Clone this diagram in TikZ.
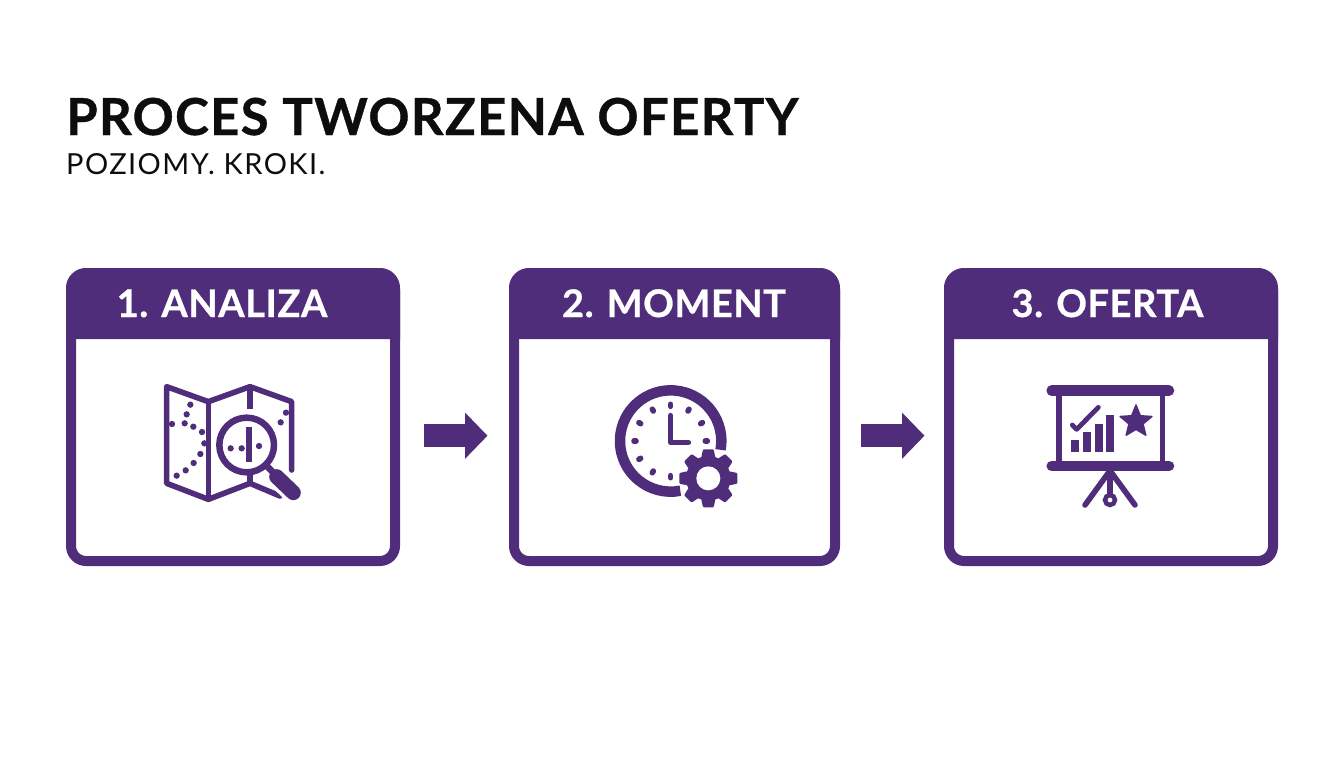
\documentclass[tikz,border=0pt]{standalone}
\usepackage{fontspec}
\setmainfont{Lato}
\newfontfamily\titlef[BoldFeatures={LetterSpace=2.5,FakeBold=0.7}]{Lato}
\newfontfamily\subf[LetterSpace=5]{Lato}
\newfontfamily\hdrf[BoldFeatures={LetterSpace=1.5,FakeBold=0.7}]{Lato}
\usetikzlibrary{arrows.meta}
\definecolor{pur}{HTML}{4F2D7A}
\definecolor{ink}{HTML}{0D0D0D}
\tikzset{
  card/.style={draw=pur,line width=10pt,rounded corners=15pt,fill=white,inner sep=0pt,minimum height=288pt},
  hdrtext/.style={text=white,font=\hdrf\fontsize{38}{40}\selectfont\bfseries,anchor=base,inner sep=0pt},
  flow/.style={draw=pur,line width=23pt,-{Triangle[length=22.5pt,width=45pt]}},
  ico/.style={draw=pur,line width=5.6pt,line cap=round,line join=round},
}
\begin{document}
\begin{tikzpicture}[x=1pt,y=-1pt]
\useasboundingbox[fill=white] (0,0) rectangle (1344,768);
\node[anchor=base west,inner sep=0pt,text=ink,font=\titlef\fontsize{51}{54}\selectfont\bfseries] (title) at (66,135) {PROCES TWORZENA OFERTY};
\node[anchor=base west,inner sep=0pt,text=ink,font=\subf\fontsize{29}{32}\selectfont] (sub) at (66,174) {POZIOMY. KROKI.};

% cards
\node[card,minimum width=324pt] (card1) at (233,417) {};
\node[card,minimum width=321pt] (card2) at (674.5,417) {};
\node[card,minimum width=324pt] (card3) at (1111,417) {};
\foreach \l/\r in {66/400,509/840,944/1278}{
  \fill[pur] (\l,339) -- (\l,290) arc[start angle=180,end angle=270,radius=22] -- (\r-22,268) arc[start angle=270,end angle=360,radius=22] -- (\r,339) -- cycle;
}
\node[hdrtext] (h1) at (222,317) {1. ANALIZA};
\node[hdrtext] (h2) at (674,317) {2. MOMENT};
\node[hdrtext] (h3) at (1107.5,317) {3. OFERTA};

% connectors
\coordinate (a1) at (424,435.7);
\coordinate (b1) at (487.5,435.7);
\coordinate (a2) at (861,435.7);
\coordinate (b2) at (924.5,435.7);
\draw[flow] (a1) -- (b1);
\draw[flow] (a2) -- (b2);

% map icon
\begin{scope}[shift={(150,370)},scale=1/3]
  \draw[ico] (425,300) -- (425,95) -- (300,50) -- (175,95) -- (50,50) -- (50,340) -- (175,388) -- (300,340) -- (390,378);
  \draw[ico] (175,95) -- (175,388);
  \draw[ico,line cap=butt] (300,50) -- (300,118);
  \draw[ico,line cap=butt] (300,315) -- (300,340);
  \foreach \p in {(121,104),(110,133),(104,160),(130,170),(156,186),(163,220),(151,252),(131,279),(107,301),(80,317),(66,162),(408,128),(392,157)}
    \fill[pur] \p circle[radius=9.5];
  \draw[white,line width=20pt,line cap=round] (385,328) -- (430,372);
  \draw[ico,fill=white,line width=6.5pt] (290,225) circle[radius=82];
  \foreach \p in {(242,235),(275,235),(327,228)}
    \fill[pur] \p circle[radius=9.5];
  \draw[pur,line width=6pt] (298,170) -- (298,275);
  \draw[pur,line width=6.5pt] (350,288) -- (385,323);
  \draw[pur,line width=15pt,line cap=round] (380,320) -- (430,368);
\end{scope}

% clock icon
\begin{scope}[shift={(600,370)},scale=1/3]
  \coordinate (k) at (212,213);
  \draw[pur,line width=10.5pt] (k) ++(10:152) arc[start angle=10,end angle=-281,radius=152];
  \foreach \a in {0,90,120,150,180,210,240,270,300,330}
    \draw[pur,line width=5.6pt,line cap=round] (k) ++(\a:104) -- ++(\a:6);
  \draw[ico] (212,137) -- (212,217) -- (265,217);
  \coordinate (g) at (325,325);
  \fill[pur] (g) circle[radius=67];
  \foreach \a in {0,45,...,315}
    \fill[pur,rounded corners=1pt,shift={(325,325)},rotate=\a] (58,-22) -- (87,-16) -- (87,16) -- (58,22) -- cycle;
  \fill[white] (g) circle[radius=36];
\end{scope}

% board icon
\begin{scope}[shift={(1035,370)},scale=1/3]
  \draw[pur,line width=5.5pt] (72,62) -- (72,288);
  \draw[pur,line width=5.5pt] (383,62) -- (383,288);
  \draw[pur,line width=10.5pt,line cap=round] (50,62) -- (402,62);
  \draw[pur,line width=10.5pt,line cap=round] (50,288) -- (402,288);
  \fill[pur] (108,210) rectangle (133,245);
  \fill[pur] (143,187) rectangle (167,245);
  \fill[pur] (179,162) rectangle (203,245);
  \fill[pur] (214,135) rectangle (238,245);
  \draw[ico,line width=4.8pt] (112,165) -- (125,178) -- (190,112);
  \begin{scope}[shift={(303,155)}]
  \fill[pur,draw=pur,line width=1.5pt,line join=round] (-90:50) -- (-54:22) -- (-18:50) -- (18:22) -- (54:50) -- (90:23) -- (126:50) -- (162:22) -- (198:50) -- (234:22) -- cycle;
  \end{scope}
  \draw[ico] (225,302) -- (150,405);
  \draw[ico] (225,302) -- (300,405);
  \draw[ico] (225,302) -- (225,378);
  \draw[pur,line width=4.5pt,fill=white] (225,390) circle[radius=15];
\end{scope}
\end{tikzpicture}
\end{document}
